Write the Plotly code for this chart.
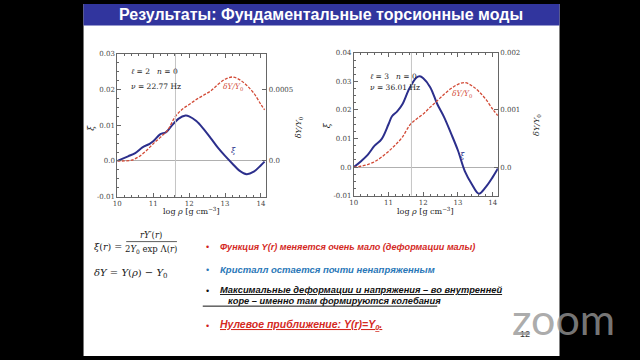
import plotly.graph_objects as go

W, H = 640, 360
def X(p): return p / W
def Y(p): return 1 - p / H

# ---------------- data ----------------
# Panel 1: l=2, n=0, nu=22.77 Hz
xi1_logrho = [10.0, 10.3, 10.5, 10.7, 10.9, 11.0, 11.2, 11.35, 11.5, 11.7, 11.9, 12.0, 12.2, 12.4, 12.6, 12.8, 13.0, 13.2, 13.4, 13.6, 13.8, 14.0, 14.1]
xi1 = [0.0, 0.0013, 0.0022, 0.0038, 0.0048, 0.0055, 0.0075, 0.0080, 0.0097, 0.0118, 0.0127, 0.0125, 0.0112, 0.0090, 0.0064, 0.0037, 0.0014, -0.0007, -0.0027, -0.0037, -0.0030, -0.0012, -0.0002]
dy1_logrho = [10.0, 10.2, 10.4, 10.6, 10.8, 11.0, 11.2, 11.4, 11.6, 11.8, 12.0, 12.2, 12.4, 12.6, 12.8, 13.0, 13.2, 13.4, 13.6, 13.8, 14.0, 14.1]
dy1 = [0.0, 0.0, 0.000005, 0.00003, 0.00007, 0.00012, 0.000165, 0.000215, 0.000305, 0.00036, 0.000395, 0.00043, 0.00046, 0.00049, 0.000535, 0.000572, 0.000588, 0.00057, 0.00053, 0.000475, 0.000395, 0.000358]

# Panel 2: l=3, n=0, nu=36.01 Hz
xi2_logrho = [10.0, 10.2, 10.4, 10.6, 10.8, 11.0, 11.1, 11.25, 11.4, 11.6, 11.8, 11.9, 12.0, 12.2, 12.4, 12.6, 12.8, 13.0, 13.2, 13.4, 13.6, 13.8, 14.0, 14.15]
xi2 = [0.0, 0.002, 0.0043, 0.0075, 0.0098, 0.015, 0.0178, 0.0195, 0.022, 0.0275, 0.0313, 0.0318, 0.0311, 0.028, 0.0222, 0.0175, 0.0118, 0.0058, -0.0015, -0.006, -0.0093, -0.0070, -0.0035, -0.0005]
dy2_logrho = [10.0, 10.2, 10.4, 10.6, 10.8, 11.0, 11.2, 11.4, 11.6, 11.8, 12.0, 12.2, 12.4, 12.6, 12.8, 13.0, 13.2, 13.4, 13.6, 13.8, 14.0, 14.15]
dy2 = [0.0, 0.000015, 0.000045, 0.000095, 0.000175, 0.000275, 0.00039, 0.000525, 0.000725, 0.00084, 0.00093, 0.00105, 0.00116, 0.001275, 0.001375, 0.00145, 0.00148, 0.001425, 0.001325, 0.00119, 0.001015, 0.0009]

drip1, drip2 = 11.62, 11.66

x_ticks = [10, 11, 12, 13, 14]
y1_ticks = [-0.01, 0.0, 0.01, 0.02, 0.03]
y1_text = ["-0.01", "0.0", "0.01", "0.02", "0.03"]
r1_ticks = [0.0, 0.0005]
r1_text = ["0.0", "0.0005"]
y2_ticks = [-0.01, 0.0, 0.01, 0.02, 0.03, 0.04]
y2_text = ["-0.01", "0.0", "0.01", "0.02", "0.03", "0.04"]
r2_ticks = [0.0, 0.001, 0.002]
r2_text = ["0.0", "0.001", "0.002"]

BLUE = "#2c2f8c"
RED = "#d24a36"
SERIF = "DejaVu Serif"
AX = "#666666"

fig = go.Figure()
fig.add_trace(go.Scatter(x=xi1_logrho, y=xi1, mode="lines", line=dict(color=BLUE, width=2, shape="spline"), xaxis="x", yaxis="y"))
fig.add_trace(go.Scatter(x=dy1_logrho, y=dy1, mode="lines", line=dict(color=RED, width=1.3, dash="3px,1.5px", shape="spline"), xaxis="x", yaxis="y2"))
fig.add_trace(go.Scatter(x=xi2_logrho, y=xi2, mode="lines", line=dict(color=BLUE, width=2, shape="spline"), xaxis="x2", yaxis="y3"))
fig.add_trace(go.Scatter(x=dy2_logrho, y=dy2, mode="lines", line=dict(color=RED, width=1.3, dash="3px,1.5px", shape="spline"), xaxis="x2", yaxis="y4"))

tickfont = dict(family=SERIF, size=7, color="#444")
def xax(dom, anchor):
    return dict(domain=dom, anchor=anchor, range=[10, 14.15], tickvals=x_ticks, ticks="inside", ticklen=4,
                tickcolor=AX, showline=True, linecolor=AX, linewidth=1, mirror="ticks", showgrid=False,
                zeroline=False, tickfont=tickfont, minor=dict(ticks="inside", ticklen=2, dtick=0.2, tickcolor=AX))
def yax(dom, anchor, rng, tv, tt):
    return dict(domain=dom, anchor=anchor, range=rng, tickvals=tv, ticktext=tt, ticks="inside", ticklen=4,
                tickcolor=AX, showline=True, linecolor=AX, linewidth=1, showgrid=False, zeroline=True,
                zerolinecolor="#b0b0b0", zerolinewidth=1, tickfont=tickfont,
                minor=dict(ticks="inside", ticklen=2, dtick=0.0025, tickcolor=AX))
def rax(over, anchor, rng, tv, tt):
    return dict(overlaying=over, anchor=anchor, side="right", range=rng, tickvals=tv, ticktext=tt,
                ticks="inside", ticklen=4, tickcolor=AX, showline=True, linecolor=AX, linewidth=1,
                showgrid=False, zeroline=False, tickfont=tickfont)

d1x = [X(114), X(264)]
d1y = [Y(197), Y(51)]
d2x = [X(352), X(497)]
d2y = [Y(196), Y(50)]

fig.update_layout(
    width=W, height=H, margin=dict(l=0, r=0, t=0, b=0),
    paper_bgcolor="black", plot_bgcolor="white", showlegend=False,
    xaxis=xax(d1x, "y"), yaxis=yax(d1y, "x", [-0.01, 0.03], y1_ticks, y1_text),
    yaxis2=rax("y", "x", [-0.00025, 0.00075], r1_ticks, r1_text),
    xaxis2=xax(d2x, "y3"), yaxis3=yax(d2y, "x2", [-0.01, 0.04], y2_ticks, y2_text),
    yaxis4=rax("y3", "x2", [-0.0005, 0.002], r2_ticks, r2_text),
)
fig.add_vline(x=drip1, line=dict(color="#c4c4c4", width=1), xref="x", yref="y")
fig.add_vline(x=drip2, line=dict(color="#c4c4c4", width=1), xref="x2", yref="y3")

shapes = [
    dict(type="rect", xref="paper", yref="paper", x0=X(80), x1=X(559), y0=Y(360), y1=Y(0), fillcolor="white", line=dict(width=0), layer="below"),
    dict(type="rect", xref="paper", yref="paper", x0=X(80), x1=X(559), y0=Y(22), y1=Y(0), fillcolor="#31359e", line=dict(width=0), layer="below"),
    dict(type="line", xref="paper", yref="paper", x0=X(80), x1=X(80), y0=Y(360), y1=Y(22), line=dict(color="#777", width=1)),
    dict(type="line", xref="paper", yref="paper", x0=X(123), x1=X(174), y0=Y(243), y1=Y(243), line=dict(color="#333", width=0.8)),
    dict(type="line", xref="paper", yref="paper", x0=X(200), x1=X(436), y0=Y(309), y1=Y(309), line=dict(color="#111", width=1)),
]
for s in shapes:
    fig.add_shape(**s)

def ann(x, y, text, size=9, color="#222", family=SERIF, xanchor="left", angle=0, yanchor="middle"):
    fig.add_annotation(xref="paper", yref="paper", x=X(x), y=Y(y), text=text, showarrow=False,
                       font=dict(family=family, size=size, color=color), xanchor=xanchor, yanchor=yanchor,
                       textangle=angle)

ARIAL = "Liberation Sans"
ann(319, 11, "<b>Результаты: Фундаментальные торсионные моды</b>", size=16, color="white", family=ARIAL, xanchor="center")

# panel 1 texts
ann(126, 69, "<i>ℓ</i> = 2   <i>n</i> = 0", size=7.5)
ann(126, 84, "<i>ν</i> = 22.77 Hz", size=7.5)
ann(218, 85, "<i>δY/Y</i><sub>0</sub>", size=7.5, color=RED)
ann(226, 150, "<i>ξ</i>", size=8, color=BLUE)
ann(88, 126, "<i>ξ</i>", size=9, xanchor="center", angle=-90)
ann(297, 126, "<i>δY/Y</i><sub>0</sub>", size=8, xanchor="center", angle=-90)
ann(189, 212, "log <i>ρ</i> [g cm<sup>−3</sup>]", size=8, xanchor="center")

# panel 2 texts
ann(366, 74, "<i>ℓ</i> = 3   <i>n</i> = 0", size=7.5)
ann(366, 85, "<i>ν</i> = 36.01 Hz", size=7.5)
ann(449, 92, "<i>δY/Y</i><sub>0</sub>", size=7.5, color=RED)
ann(457, 155, "<i>ξ</i>", size=8, color=BLUE)
ann(325, 124, "<i>ξ</i>", size=9, xanchor="center", angle=-90)
ann(537, 124, "<i>δY/Y</i><sub>0</sub>", size=8, xanchor="center", angle=-90)
ann(424, 212, "log <i>ρ</i> [g cm<sup>−3</sup>]", size=8, xanchor="center")

# formulas
ann(89, 248, "<i>ξ</i>(<i>r</i>) =", size=9.5)
ann(148, 236, "<i>rY</i>′(<i>r</i>)", size=8.5, xanchor="center")
ann(148, 251, "2<i>Y</i><sub>0</sub> exp Λ(<i>r</i>)", size=8.5, xanchor="center")
ann(89, 276, "<i>δY</i> = <i>Y</i>(<i>ρ</i>) − <i>Y</i><sub>0</sub>", size=10)

# bullets
for yb in [249, 272, 294, 329]:
    ann(201, yb, "•", size=9, color="#d02020" if yb in (249, 329) else ("#2a78b8" if yb == 272 else "#111"), family=ARIAL)
ann(215, 249, "<b><i>Функция Y(r) меняется очень мало (деформации малы)</i></b>", size=9.1, color="#d42a1f", family=ARIAL)
ann(215, 272, "<b><i>Кристалл остается почти ненапряженным</i></b>", size=9.5, color="#2a78b8", family=ARIAL)
ann(215, 293, "<b><i><u>Максимальные деформации и напряжения – во внутренней</u></i></b>", size=9.3, color="#111", family=ARIAL)
ann(223, 304, "<b><i>коре – именно там формируются колебания</i></b>", size=9.3, color="#111", family=ARIAL)
ann(215, 328, "<b><i><u>Нулевое приближение: Y(r)=Y<sub>0</sub>.</u></i></b>", size=10.5, color="#d42a1f", family=ARIAL)
ann(524, 338, "12", size=9, color="#333", family=ARIAL, xanchor="center")

# zoom watermark
ann(563, 322, "zoom", size=43, color="rgba(150,150,150,0.8)", family="Lato", xanchor="center")

fig.write_html("out.html", config={"displayModeBar": False},
               post_script="document.body.style.margin='0';document.body.style.background='black';document.body.style.overflow='hidden';")
